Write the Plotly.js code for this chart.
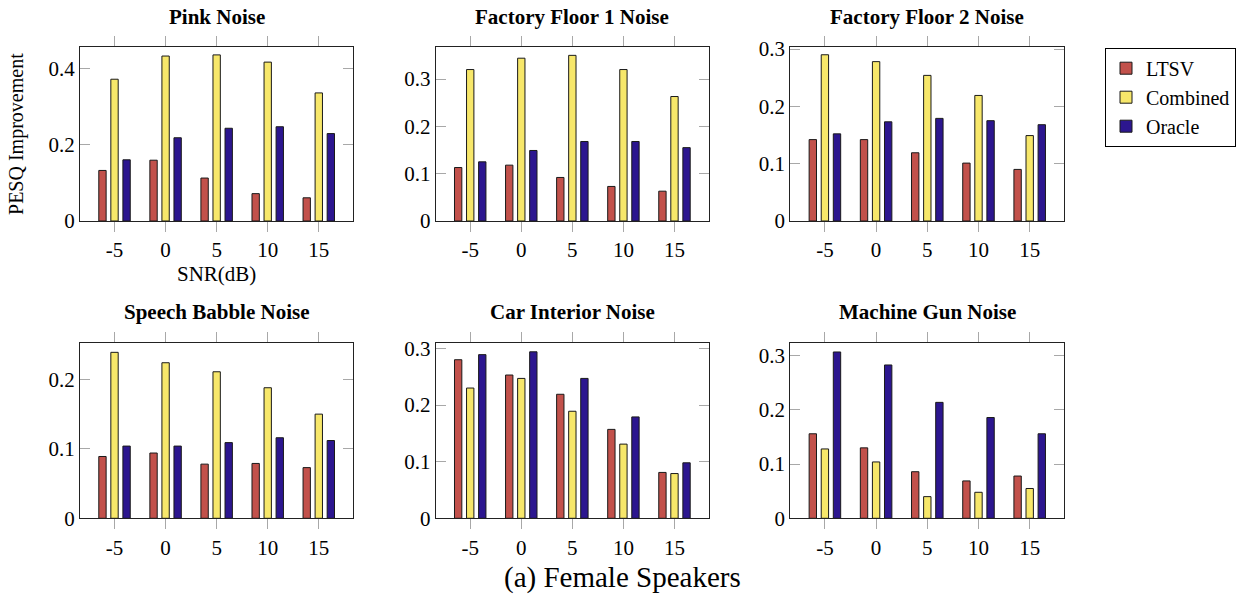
<!DOCTYPE html>
<html>
<head>
<meta charset="utf-8">
<script src="https://cdn.plot.ly/plotly-3.0.1.min.js"></script>
<style>html,body{margin:0;padding:0;background:#fff;}#chart{width:1244px;height:594px;}</style>
</head>
<body>
<div id="chart"></div>
<script>
const snr = [-5, 0, 5, 10, 15];
const seriesNames = ['LTSV', 'Combined', 'Oracle'];
const panelTitles = ['Pink Noise', 'Factory Floor 1 Noise', 'Factory Floor 2 Noise',
                     'Speech Babble Noise', 'Car Interior Noise', 'Machine Gun Noise'];

const pinkLTSV      = [0.133, 0.160, 0.113, 0.072, 0.061];
const pinkCombined  = [0.373, 0.434, 0.437, 0.418, 0.337];
const pinkOracle    = [0.161, 0.219, 0.244, 0.248, 0.230];

const fac1LTSV      = [0.113, 0.118, 0.092, 0.073, 0.063];
const fac1Combined  = [0.320, 0.344, 0.350, 0.320, 0.263];
const fac1Oracle    = [0.125, 0.149, 0.168, 0.168, 0.155];

const fac2LTSV      = [0.142, 0.142, 0.119, 0.101, 0.090];
const fac2Combined  = [0.290, 0.278, 0.254, 0.219, 0.149];
const fac2Oracle    = [0.152, 0.173, 0.179, 0.175, 0.168];

const babbleLTSV     = [0.089, 0.094, 0.078, 0.079, 0.073];
const babbleCombined = [0.239, 0.224, 0.211, 0.188, 0.150];
const babbleOracle   = [0.104, 0.104, 0.109, 0.116, 0.112];

const carLTSV       = [0.280, 0.253, 0.219, 0.157, 0.081];
const carCombined   = [0.230, 0.247, 0.189, 0.131, 0.079];
const carOracle     = [0.289, 0.294, 0.247, 0.179, 0.098];

const gunLTSV       = [0.156, 0.130, 0.086, 0.069, 0.078];
const gunCombined   = [0.128, 0.104, 0.040, 0.048, 0.055];
const gunOracle     = [0.307, 0.283, 0.214, 0.186, 0.156];

const panels = [
  [pinkLTSV, pinkCombined, pinkOracle],
  [fac1LTSV, fac1Combined, fac1Oracle],
  [fac2LTSV, fac2Combined, fac2Oracle],
  [babbleLTSV, babbleCombined, babbleOracle],
  [carLTSV, carCombined, carOracle],
  [gunLTSV, gunCombined, gunOracle]
];
const yMax = [0.457, 0.367, 0.303, 0.252, 0.309, 0.323];
const yStep = [0.2, 0.1, 0.1, 0.1, 0.1, 0.1];

const colors = ['#c2514b', '#f7e76a', '#2c168f'];
const FONT = '"Liberation Serif", "Times New Roman", Times, serif';

const W = 1244, H = 594;
const colPx = [[80, 353.3], [435.7, 709], [790.3, 1064.3]];
const rowPx = [[47.3, 221], [343.3, 518.3]];

const traces = [];
const layout = {
  width: W, height: H,
  margin: {l: 0, r: 0, t: 0, b: 0},
  paper_bgcolor: '#fff', plot_bgcolor: '#fff',
  barmode: 'group', bargap: 0.292, bargroupgap: 0.39,
  font: {family: FONT, size: 21, color: '#000'},
  showlegend: true,
  legend: {
    x: 1105 / W, y: 1 - 47.7 / H, xanchor: 'left', yanchor: 'top',
    bordercolor: '#000', borderwidth: 1, bgcolor: '#fff',
    font: {family: FONT, size: 20, color: '#000'},
    tracegroupgap: 0, itemwidth: 30, traceorder: 'normal'
  },
  annotations: []
};

panels.forEach((series, p) => {
  const r = Math.floor(p / 3), c = p % 3;
  const ax = p === 0 ? '' : String(p + 1);
  series.forEach((vals, s) => {
    traces.push({
      type: 'bar', x: snr, y: vals, name: seriesNames[s],
      xaxis: 'x' + ax, yaxis: 'y' + ax,
      showlegend: p === 0,
      marker: {color: colors[s], line: {color: '#1a1a1a', width: 1}},
      hoverinfo: 'x+y'
    });
  });
  const xd = [colPx[c][0] / W, colPx[c][1] / W];
  const yd = [1 - rowPx[r][1] / H, 1 - rowPx[r][0] / H];
  layout['xaxis' + ax] = {
    domain: xd, anchor: 'y' + ax, range: [-8.38, 18.38],
    tickvals: snr, ticktext: snr.map(String),
    ticks: 'outside', ticklen: 10, tickwidth: 1, tickcolor: '#a8a8a8',
    showline: true, linecolor: '#222', linewidth: 1, mirror: 'ticks',
    showgrid: false, zeroline: false, fixedrange: true,
    tickfont: {family: FONT, size: 21, color: '#000'}
  };
  layout['yaxis' + ax] = {
    domain: yd, anchor: 'x' + ax, range: [0, yMax[p]],
    dtick: yStep[p], tick0: 0,
    ticks: 'inside', ticklen: 10, tickwidth: 1, tickcolor: '#a8a8a8',
    showline: true, linecolor: '#222', linewidth: 1, mirror: 'ticks',
    showgrid: false, zeroline: false, fixedrange: true,
    tickfont: {family: FONT, size: 21, color: '#000'}
  };
  layout.annotations.push({
    text: '<b>' + panelTitles[p] + '</b>',
    xref: 'paper', yref: 'paper',
    x: (xd[0] + xd[1]) / 2, y: 1 - (r === 0 ? 17 : 312) / H,
    xanchor: 'center', yanchor: 'middle', showarrow: false,
    font: {family: FONT, size: 21, color: '#000'}
  });
});

layout.xaxis.title = {text: 'SNR(dB)', font: {family: FONT, size: 21, color: '#000'}, standoff: 0};
layout.yaxis.title = {text: 'PESQ Improvement', font: {family: FONT, size: 20, color: '#000'}, standoff: 19};

layout.annotations.push({
  text: '(a) Female Speakers', xref: 'paper', yref: 'paper',
  x: 622 / W, y: 1 - 577 / H, xanchor: 'center', yanchor: 'middle',
  showarrow: false, font: {family: FONT, size: 29, color: '#000'}
});

Plotly.newPlot('chart', traces, layout, {displayModeBar: false, staticPlot: true});
</script>
</body>
</html>
